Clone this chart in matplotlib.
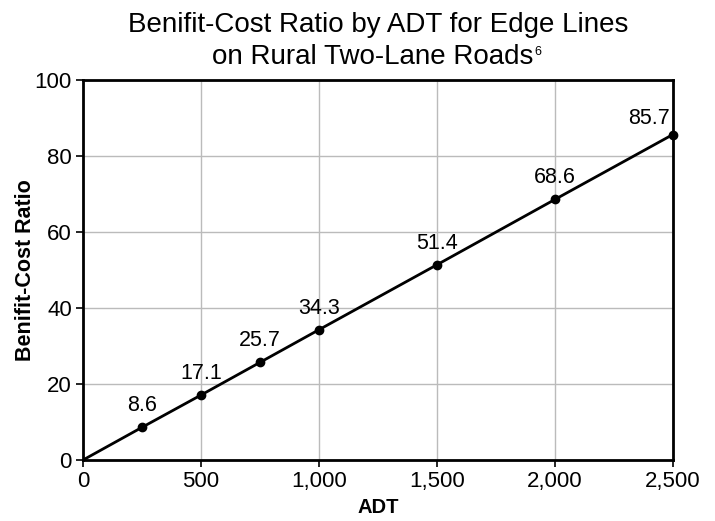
import matplotlib
matplotlib.use("Agg")
import matplotlib.pyplot as plt
from matplotlib.ticker import FuncFormatter

plt.rcParams['font.family'] = ['Liberation Sans', 'DejaVu Sans']

# data
adt = [0, 250, 500, 750, 1000, 1500, 2000, 2500]
ratio = [0, 8.6, 17.1, 25.7, 34.3, 51.4, 68.6, 85.7]
labels = ["", "8.6", "17.1", "25.7", "34.3", "51.4", "68.6", "85.7"]

fig = plt.figure(figsize=(7.15, 5.21), dpi=100)
ax = fig.add_axes([0.116, 0.117, 0.825, 0.729])

ax.plot(adt, ratio, color="black", lw=2, zorder=3)
ax.plot(adt[1:], ratio[1:], "o", color="black", ms=6, zorder=4, clip_on=False)

for x, y, t in zip(adt, ratio, labels):
    if not t:
        continue
    if x == adt[-1]:
        # last label sits left of the point, against the frame
        ax.annotate(t, (x, y), xytext=(-2, 4), textcoords="offset points",
                    ha="right", va="bottom", fontsize=15.5)
    else:
        ax.annotate(t, (x, y), xytext=(0, 8), textcoords="offset points",
                    ha="center", va="bottom", fontsize=15.5)

ax.set_xlim(0, 2500)
ax.set_ylim(0, 100)
ax.set_xticks([0, 500, 1000, 1500, 2000, 2500])
ax.set_yticks([0, 20, 40, 60, 80, 100])
ax.xaxis.set_major_formatter(FuncFormatter(lambda v, p: "{:,.0f}".format(v)))
ax.grid(True, color="#bbbbbb", lw=1)
ax.set_axisbelow(True)
for s in ax.spines.values():
    s.set_linewidth(2)
ax.tick_params(labelsize=16, width=1.2, length=5, direction="out", pad=3)

ax.set_xlabel("ADT", fontsize=14.5, fontweight="bold", labelpad=4)
ax.set_ylabel("Benifit-Cost Ratio", fontsize=15.5, fontweight="bold", labelpad=-1)

# title centred over the plot, with a small superscript after the second line
cx = 378 / 715
fig.text(cx, 1 - 25 / 521, "Benifit-Cost Ratio by ADT for Edge Lines",
         ha="center", va="center", fontsize=20)
t2 = fig.text(cx - 5 / 715, 1 - 57 / 521, "on Rural Two-Lane Roads",
              ha="center", va="center", fontsize=20)
fig.canvas.draw()
bb = t2.get_window_extent()
fig.text((bb.x1 + 1) / fig.bbox.width, (bb.y1 - 2) / fig.bbox.height, "6",
         ha="left", va="top", fontsize=9)

fig.savefig("out.png", dpi=100)
